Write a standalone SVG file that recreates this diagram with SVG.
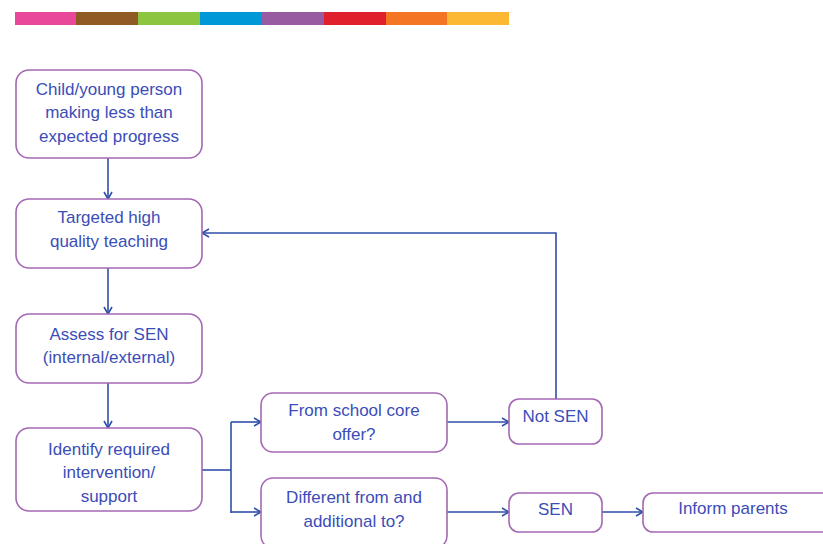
<svg xmlns="http://www.w3.org/2000/svg" width="823" height="544" viewBox="0 0 823 544">
<style>
.box{fill:#fff;stroke:#A468B4;stroke-width:1.6}
.t{font-family:"Liberation Sans",Arial,sans-serif;font-size:17px;fill:#3B4DB8;text-anchor:middle}
.c{fill:none;stroke:#2F4FA8;stroke-width:1.6}
</style>
<defs>
<marker id="ah" viewBox="0 0 10 10" refX="9" refY="5" markerWidth="10" markerHeight="10" markerUnits="userSpaceOnUse" orient="auto">
<path d="M2,1 L9,5 L2,9" fill="none" stroke="#2F4FA8" stroke-width="1.6"/>
</marker>
</defs>
<g id="colorbar">
<rect x="15" y="12" width="61" height="13" fill="#E8479A"/>
<rect x="76" y="12" width="62" height="13" fill="#8F5A23"/>
<rect x="138" y="12" width="62" height="13" fill="#8CC640"/>
<rect x="200" y="12" width="62" height="13" fill="#0098D6"/>
<rect x="262" y="12" width="62" height="13" fill="#985AA0"/>
<rect x="324" y="12" width="62" height="13" fill="#E0202A"/>
<rect x="386" y="12" width="61" height="13" fill="#F47524"/>
<rect x="447" y="12" width="62" height="13" fill="#FDB833"/>
</g>
<g id="connectors">
<path class="c" d="M108,158 V199" marker-end="url(#ah)"/>
<path class="c" d="M108,268 V314" marker-end="url(#ah)"/>
<path class="c" d="M108,383 V428" marker-end="url(#ah)"/>
<path class="c" d="M202,470 H231"/>
<path class="c" d="M231,422 V513"/>
<path class="c" d="M231,422 H261" marker-end="url(#ah)"/>
<path class="c" d="M231,512 H261" marker-end="url(#ah)"/>
<path class="c" d="M447,422 H509" marker-end="url(#ah)"/>
<path class="c" d="M556,399 V233 H202" marker-end="url(#ah)"/>
<path class="c" d="M447,512 H509" marker-end="url(#ah)"/>
<path class="c" d="M602,512 H643" marker-end="url(#ah)"/>
</g>
<g id="n1">
<rect class="box" x="16" y="70" width="186" height="88" rx="13"/>
<text class="t" x="109" y="95">Child/young person</text>
<text class="t" x="109" y="118">making less than</text>
<text class="t" x="109" y="142">expected progress</text>
</g>
<g id="n2">
<rect class="box" x="16" y="199" width="186" height="69" rx="13"/>
<text class="t" x="109" y="223">Targeted high</text>
<text class="t" x="109" y="247">quality teaching</text>
</g>
<g id="n3">
<rect class="box" x="16" y="314" width="186" height="69" rx="13"/>
<text class="t" x="109" y="340">Assess for SEN</text>
<text class="t" x="109" y="363">(internal/external)</text>
</g>
<g id="n4">
<rect class="box" x="16" y="428" width="186" height="83" rx="13"/>
<text class="t" x="109" y="455">Identify required</text>
<text class="t" x="109" y="478">intervention/</text>
<text class="t" x="109" y="502">support</text>
</g>
<g id="n5">
<rect class="box" x="261" y="393" width="186" height="59" rx="12"/>
<text class="t" x="354" y="416">From school core</text>
<text class="t" x="354" y="440">offer?</text>
</g>
<g id="n6">
<rect class="box" x="509" y="399" width="93" height="45" rx="10"/>
<text class="t" x="555.5" y="422">Not SEN</text>
</g>
<g id="n7">
<rect class="box" x="261" y="478" width="186" height="70" rx="12"/>
<text class="t" x="354" y="503">Different from and</text>
<text class="t" x="354" y="527">additional to?</text>
</g>
<g id="n8">
<rect class="box" x="509" y="493" width="93" height="39" rx="10"/>
<text class="t" x="555.5" y="515">SEN</text>
</g>
<g id="n9">
<rect class="box" x="643" y="493" width="190" height="39" rx="10"/>
<text class="t" x="733" y="514">Inform parents</text>
</g>
</svg>
